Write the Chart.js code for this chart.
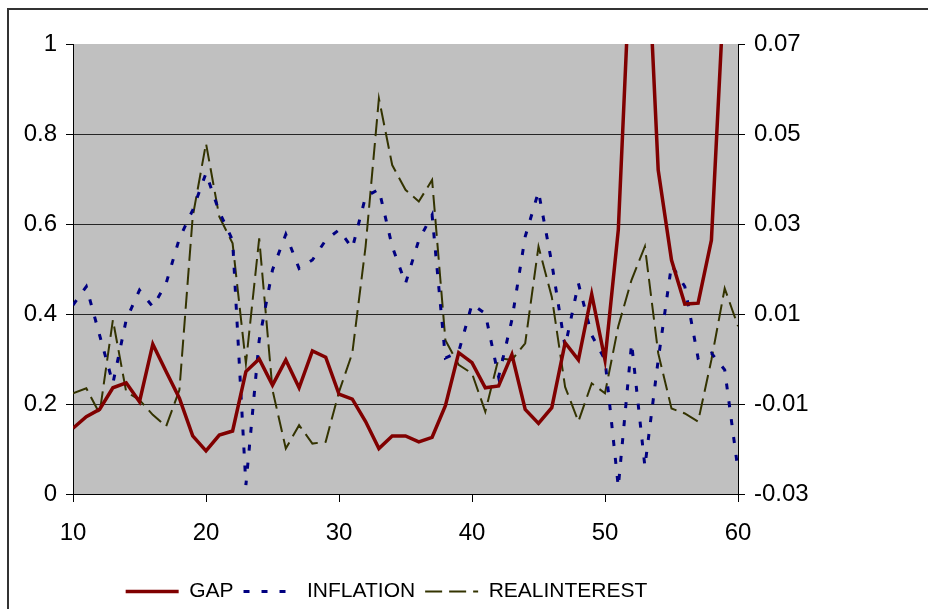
<!DOCTYPE html>
<html>
<head>
<meta charset="utf-8">
<script src="https://cdn.jsdelivr.net/npm/chart.js@4"></script>
<style>
html, body { margin: 0; padding: 0; background: #fff; overflow: hidden; }
#wrap { position: relative; width: 928px; height: 609px; }
#frame { position: absolute; left: 7px; top: 8px; width: 1000px; height: 700px; border: 2px solid #333; box-sizing: border-box; }
canvas { position: absolute; left: 0; top: 0; }
</style>
</head>
<body>
<div id="wrap">
  <div id="frame"></div>
  <canvas id="chart" width="928" height="609"></canvas>
</div>
<script>
// periods on the x axis
const periods = [10, 11, 12, 13, 14, 15, 16, 17, 18, 19, 20, 21, 22, 23, 24, 25, 26, 27, 28, 29,
  30, 31, 32, 33, 34, 35, 36, 37, 38, 39, 40, 41, 42, 43, 44, 45, 46, 47, 48, 49,
  50, 51, 52, 53, 54, 55, 56, 57, 58, 59, 60];

// left axis
const gap = [0.146, 0.172, 0.188, 0.236, 0.247, 0.205, 0.333, 0.272, 0.213, 0.129,
  0.096, 0.131, 0.140, 0.272, 0.300, 0.242, 0.298, 0.236, 0.318, 0.304,
  0.222, 0.211, 0.161, 0.101, 0.129, 0.129, 0.116, 0.126, 0.196, 0.314,
  0.292, 0.236, 0.240, 0.310, 0.188, 0.157, 0.192, 0.336, 0.298, 0.444,
  0.298, 0.587, 1.25, 1.35, 0.720, 0.520, 0.422, 0.424, 0.564, 1.15, 1.5];

// right axis
const inflation = [0.0120, 0.0161, 0.0053, -0.0054, 0.0087, 0.0153, 0.0116, 0.0168, 0.0268, 0.0331,
  0.0413, 0.0327, 0.0264, -0.0280, 0.0042, 0.0198, 0.0277, 0.0201, 0.0220, 0.0264,
  0.0287, 0.0246, 0.0361, 0.0377, 0.0250, 0.0168, 0.0264, 0.0320, 0.0002, 0.0016,
  0.0122, 0.0101, -0.0040, 0.0087, 0.0272, 0.0372, 0.0213, 0.0027, 0.0168, 0.0053,
  -0.0002, -0.0284, 0.0035, -0.0239, -0.0002, 0.0209, 0.0161, 0.0002, 0.0013, -0.0024,
  -0.0247];

const realInterest = [-0.0076, -0.0065, -0.0121, 0.0087, -0.0073, -0.0091, -0.0124, -0.0150, -0.0069, 0.0316,
  0.0479, 0.0316, 0.0257, -0.0010, 0.0268, -0.0069, -0.0199, -0.0147, -0.0188, -0.0184,
  -0.0073, 0.0013, 0.0250, 0.0579, 0.0431, 0.0376, 0.0350, 0.0398, 0.0042, -0.0013,
  -0.0032, -0.0117, 0.0002, -0.0002, 0.0035, 0.0250, 0.0138, -0.0062, -0.0139, -0.0054,
  -0.0076, 0.0073, 0.0176, 0.0250, 0.0013, -0.0110, -0.0121, -0.0139, -0.0002, 0.0157,
  0.0073];

const xTicks = [10, 20, 30, 40, 50, 60];
const leftTicks = [0, 0.2, 0.4, 0.6, 0.8, 1];
const rightTicks = [-0.03, -0.01, 0.01, 0.03, 0.05, 0.07];

Chart.defaults.font.family = '"Liberation Sans", Arial, sans-serif';
Chart.defaults.color = '#000';

const toPoints = vals => vals.map((v, i) => ({ x: periods[i], y: v }));

// grey plot area like the spreadsheet chart
const plotBg = {
  id: 'plotBg',
  beforeDraw(chart) {
    const { ctx, chartArea: a } = chart;
    ctx.save();
    ctx.fillStyle = '#c0c0c0';
    ctx.fillRect(a.left, a.top, a.right - a.left, a.bottom - a.top);
    ctx.restore();
  }
};

// legend sits a bit left of the canvas centre
const legendShift = {
  id: 'legendShift',
  afterLayout(chart) {
    const lg = chart.legend;
    lg.left = 0;
    lg.right = 773;
    lg.top += 3;
    lg.bottom += 3;
  }
};

new Chart(document.getElementById('chart'), {
  type: 'line',
  data: {
    datasets: [
      {
        label: 'GAP',
        data: toPoints(gap),
        yAxisID: 'y',
        borderColor: '#800000',
        borderWidth: 3.5,
        pointStyle: 'line'
      },
      {
        label: 'INFLATION',
        data: toPoints(inflation),
        yAxisID: 'y1',
        borderColor: '#000080',
        borderWidth: 3,
        borderDash: [6, 12],
        pointStyle: 'line'
      },
      {
        label: 'REALINTEREST',
        data: toPoints(realInterest),
        yAxisID: 'y1',
        borderColor: '#333300',
        borderWidth: 2,
        borderDash: [17, 7],
        pointStyle: 'line'
      }
    ]
  },
  options: {
    responsive: false,
    animation: false,
    devicePixelRatio: 1,
    clip: 0,
    elements: { point: { radius: 0, hoverRadius: 0 }, line: { tension: 0 } },
    layout: { padding: { left: 0, right: 0, top: 44, bottom: 0 } },
    plugins: {
      tooltip: { enabled: false },
      legend: {
        position: 'bottom',
        labels: {
          usePointStyle: true,
          pointStyleWidth: 53,
          padding: 10,
          color: '#000',
          font: { size: 21 },
          // point style items lose the dash, put it back from the dataset
          generateLabels: chart => {
            const items = Chart.defaults.plugins.legend.labels.generateLabels(chart);
            items.forEach(it => {
              const ds = chart.data.datasets[it.datasetIndex];
              it.lineDash = ds.borderDash || [];
              it.lineWidth = ds.borderWidth;
              it.strokeStyle = ds.borderColor;
            });
            return items;
          }
        }
      }
    },
    scales: {
      x: {
        type: 'linear',
        min: 10,
        max: 60,
        afterBuildTicks: s => { s.ticks = xTicks.map(v => ({ value: v })); },
        afterFit: s => { s.height = 74; },
        grid: { drawOnChartArea: false, tickLength: 8, color: '#000' },
        border: { color: '#000', width: 1 },
        ticks: { font: { size: 24 }, color: '#000', padding: 17, maxRotation: 0 }
      },
      y: {
        position: 'left',
        min: 0,
        max: 1,
        afterBuildTicks: s => { s.ticks = leftTicks.map(v => ({ value: v })); },
        afterFit: s => { s.width = 73; },
        grid: {
          color: c => (c.tick && (c.tick.value === 0 || c.tick.value === 1)) ? 'rgba(0,0,0,0)' : '#262626',
          tickColor: '#000',
          tickLength: 7
        },
        border: { color: '#000', width: 1 },
        ticks: { font: { size: 24 }, color: '#000', padding: 9, callback: v => String(v) }
      },
      y1: {
        position: 'right',
        min: -0.03,
        max: 0.07,
        afterBuildTicks: s => { s.ticks = rightTicks.map(v => ({ value: v })); },
        afterFit: s => { s.width = 190; },
        grid: { drawOnChartArea: false, tickLength: 7, color: '#000' },
        border: { color: '#000', width: 1 },
        ticks: { font: { size: 24 }, color: '#000', padding: 9, callback: v => v.toFixed(2) }
      }
    }
  },
  plugins: [plotBg, legendShift]
});
</script>
</body>
</html>
